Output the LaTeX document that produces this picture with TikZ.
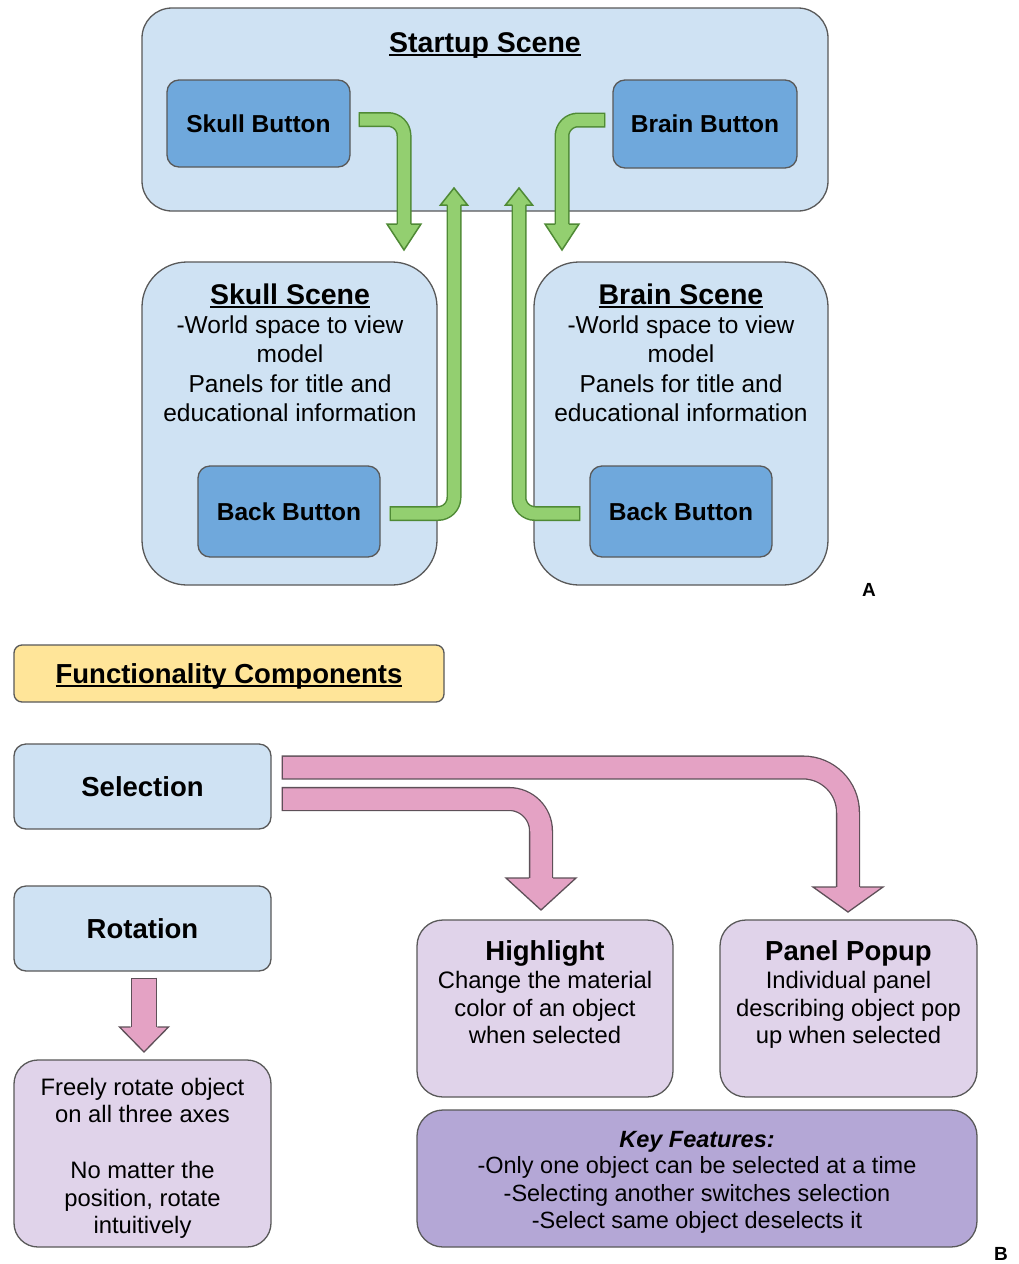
\documentclass[tikz,border=0pt]{standalone}
\usepackage{fontspec}
\setmainfont{Liberation Sans}
\usetikzlibrary{calc}
\definecolor{lblue}{HTML}{CFE2F3}
\definecolor{mblue}{HTML}{6FA8DC}
\definecolor{edgec}{HTML}{595959}
\definecolor{gfill}{HTML}{93CF70}
\definecolor{gedge}{HTML}{4F8A35}
\definecolor{pfill}{HTML}{E4A2C4}
\definecolor{pedge}{HTML}{5E5058}
\definecolor{lav}{HTML}{E0D3EA}
\definecolor{kfill}{HTML}{B4A7D6}
\definecolor{yfill}{HTML}{FFE599}
\newcommand\fsz[2]{\fontsize{#1}{#2}\selectfont}
\newcommand\ulin[1]{\setbox0\hbox{#1}\leavevmode\rlap{\rule[-0.13em]{\wd0}{0.075em}}\box0}
\tikzset{
  box/.style={draw=edgec, line width=1.3pt, inner sep=0pt},
  titlef/.style={font=\fsz{28.5}{34}\bfseries},
  btnf/.style={font=\fsz{24.5}{29}\bfseries},
  bodyf/.style={font=\fsz{24.5}{29}},
  btitle/.style={font=\fsz{27.5}{33}\bfseries},
  bbody/.style={font=\fsz{23.8}{28}},
  txt/.style={anchor=base, inner sep=0pt},
  gshaft/.style={draw=gedge, double=gfill, double distance=12pt, line width=1.5pt, rounded corners=16pt},
  ghead/.style={fill=gfill, draw=gedge, line width=1.5pt, line join=miter},
  gcap/.style={draw=gedge, line width=1.5pt},
  pshaft/.style={draw=pedge, double=pfill, double distance=21.5pt, line width=1.3pt},
  phead/.style={fill=pfill, draw=pedge, line width=1.3pt, line join=miter},
  pcap/.style={draw=pedge, line width=1.3pt},
}
\begin{document}
\begin{tikzpicture}[x=1pt, y=-1pt]
\useasboundingbox (0,0) rectangle (1019,1264);
\fill[white] (0,0) rectangle (1019,1264);

% ---------- Part A ----------
\node[box, fill=lblue, rounded corners=30pt, minimum width=686pt, minimum height=203pt] (startup) at (485,109.5) {};
\node[txt, titlef] (startupt) at (485,52) {\ulin{Startup Scene}};
\node[box, fill=mblue, rounded corners=12pt, minimum width=183pt, minimum height=87pt, btnf] (skullbtn) at (258.5,123.5) {Skull Button};
\node[box, fill=mblue, rounded corners=12pt, minimum width=184pt, minimum height=88pt, btnf] (brainbtn) at (705,124) {Brain Button};

\node[box, fill=lblue, rounded corners=45pt, minimum width=295pt, minimum height=323pt] (skullsc) at (289.5,423.5) {};
\node[box, fill=lblue, rounded corners=45pt, minimum width=294pt, minimum height=323pt] (brainsc) at (681,423.5) {};

\node[txt, titlef] (skt) at (290,304) {\ulin{Skull Scene}};
\node[txt, bodyf] (sk1) at (290,333) {-World space to view};
\node[txt, bodyf] (sk2) at (290,362) {model};
\node[txt, bodyf] (sk3) at (290,392) {Panels for title and};
\node[txt, bodyf] (sk4) at (290,421) {educational information};

\node[txt, titlef] (brt) at (681,304) {\ulin{Brain Scene}};
\node[txt, bodyf] (br1) at (681,333) {-World space to view};
\node[txt, bodyf] (br2) at (681,362) {model};
\node[txt, bodyf] (br3) at (681,392) {Panels for title and};
\node[txt, bodyf] (br4) at (681,421) {educational information};

\node[box, fill=mblue, rounded corners=12pt, minimum width=182pt, minimum height=91pt, btnf] (backl) at (289,511.5) {Back Button};
\node[box, fill=mblue, rounded corners=12pt, minimum width=182pt, minimum height=91pt, btnf] (backr) at (681,511.5) {Back Button};

\node[txt, font=\fsz{19}{22}\bfseries] (labA) at (869,596) {A};

% green connectors
\coordinate (g1tip) at (404,250);
\coordinate (g2tip) at (454,188);
\coordinate (g3tip) at (519,188);
\coordinate (g4tip) at (562,250);
\coordinate (g1s) at ([xshift=8pt,yshift=4pt]skullbtn.east);
\coordinate (g4s) at ([xshift=-7pt,yshift=4pt]brainbtn.west);
\coordinate (g2s) at ([xshift=9pt,yshift=-2pt]backl.east);
\coordinate (g3s) at ([xshift=-9pt,yshift=-2pt]backr.west);

\draw[gshaft] (g1s) -| ($(g1tip)+(0,-26)$);
\draw[gcap] ($(g1s)+(0.75,-6.75)$) -- ($(g1s)+(0.75,6.75)$);
\filldraw[ghead] ($(g1tip)+(-6.75,-26)$) -- ($(g1tip)+(-17,-26)$) -- (g1tip) -- ($(g1tip)+(17,-26)$) -- ($(g1tip)+(6.75,-26)$);

\draw[gshaft] (g4s) -| ($(g4tip)+(0,-26)$);
\draw[gcap] ($(g4s)+(-0.75,-6.75)$) -- ($(g4s)+(-0.75,6.75)$);
\filldraw[ghead] ($(g4tip)+(-6.75,-26)$) -- ($(g4tip)+(-17,-26)$) -- (g4tip) -- ($(g4tip)+(17,-26)$) -- ($(g4tip)+(6.75,-26)$);

\draw[gshaft] (g2s) -| ($(g2tip)+(0,17)$);
\draw[gcap] ($(g2s)+(0.75,-6.75)$) -- ($(g2s)+(0.75,6.75)$);
\filldraw[ghead] ($(g2tip)+(-6.75,17)$) -- ($(g2tip)+(-13.5,17)$) -- (g2tip) -- ($(g2tip)+(13.5,17)$) -- ($(g2tip)+(6.75,17)$);

\draw[gshaft] (g3s) -| ($(g3tip)+(0,17)$);
\draw[gcap] ($(g3s)+(-0.75,-6.75)$) -- ($(g3s)+(-0.75,6.75)$);
\filldraw[ghead] ($(g3tip)+(-6.75,17)$) -- ($(g3tip)+(-13.5,17)$) -- (g3tip) -- ($(g3tip)+(13.5,17)$) -- ($(g3tip)+(6.75,17)$);

% ---------- Part B ----------
\node[box, fill=yfill, rounded corners=8pt, minimum width=430pt, minimum height=57pt] (func) at (229,673.5) {};
\node[txt, btitle] (funct) at (229,683) {\ulin{Functionality Components}};

\node[box, fill=lblue, rounded corners=12pt, minimum width=257pt, minimum height=85pt, btitle] (sel) at (142.5,786.5) {Selection};
\node[box, fill=lblue, rounded corners=12pt, minimum width=257pt, minimum height=85pt, btitle] (rot) at (142.5,928.5) {Rotation};

\node[box, fill=lav, rounded corners=24pt, minimum width=257pt, minimum height=187pt] (freely) at (142.5,1153.5) {};
\node[txt, bbody] (fr1) at (142.5,1095) {Freely rotate object};
\node[txt, bbody] (fr2) at (142.5,1122) {on all three axes};
\node[txt, bbody] (fr3) at (142.5,1178) {No matter the};
\node[txt, bbody] (fr4) at (142.5,1206) {position, rotate};
\node[txt, bbody] (fr5) at (142.5,1233) {intuitively};

\node[box, fill=lav, rounded corners=26pt, minimum width=256pt, minimum height=177pt] (high) at (545,1008.5) {};
\node[txt, btitle] (hit) at (545,960) {Highlight};
\node[txt, bbody] (hi1) at (545,988) {Change the material};
\node[txt, bbody] (hi2) at (545,1016) {color of an object};
\node[txt, bbody] (hi3) at (545,1043) {when selected};

\node[box, fill=lav, rounded corners=26pt, minimum width=257pt, minimum height=177pt] (popup) at (848.5,1008.5) {};
\node[txt, btitle] (pot) at (848.5,960) {Panel Popup};
\node[txt, bbody] (po1) at (848.5,988) {Individual panel};
\node[txt, bbody] (po2) at (848.5,1016) {describing object pop};
\node[txt, bbody] (po3) at (848.5,1043) {up when selected};

\node[box, fill=kfill, rounded corners=26pt, minimum width=560pt, minimum height=137pt] (key) at (697,1178.5) {};
\node[txt, font=\fsz{23.5}{28}\bfseries\itshape] (kt) at (697,1147) {Key Features:};
\node[txt, font=\fsz{23.5}{28}] (k1) at (697,1173) {-Only one object can be selected at a time};
\node[txt, font=\fsz{23.5}{28}] (k2) at (697,1201) {-Selecting another switches selection};
\node[txt, font=\fsz{23.5}{28}] (k3) at (697,1228) {-Select same object deselects it};

\node[txt, font=\fsz{19}{22}\bfseries] (labB) at (1001,1260) {B};

% pink connectors
\coordinate (p1tip) at (848,912);
\coordinate (p2tip) at (541,910);
\coordinate (p3tip) at (144,1052);
\coordinate (p1s) at ([xshift=10pt,yshift=19pt]sel.east);
\coordinate (p2s) at ([xshift=10pt,yshift=-12.5pt]sel.east);
\coordinate (p3s) at ([yshift=-6pt]rot.south -| p3tip);

\draw[pshaft, rounded corners=45pt] (p1s) -| ($(p1tip)+(0,-25)$);
\draw[pcap] ($(p1s)+(0.65,-11.4)$) -- ($(p1s)+(0.65,11.4)$);
\filldraw[phead] ($(p1tip)+(-12,-25)$) -- ($(p1tip)+(-35,-25)$) -- (p1tip) -- ($(p1tip)+(35,-25)$) -- ($(p1tip)+(12,-25)$);

\draw[pshaft, rounded corners=32pt] (p2s) -| ($(p2tip)+(0,-32)$);
\draw[pcap] ($(p2s)+(0.65,-11.4)$) -- ($(p2s)+(0.65,11.4)$);
\filldraw[phead] ($(p2tip)+(-12,-32)$) -- ($(p2tip)+(-35,-32)$) -- (p2tip) -- ($(p2tip)+(35,-32)$) -- ($(p2tip)+(12,-32)$);

\draw[pshaft, double distance=24pt] (p3s) -- ($(p3tip)+(0,-25)$);
\draw[pcap] ($(p3s)+(-12.65,0.65)$) -- ($(p3s)+(12.65,0.65)$);
\filldraw[phead] ($(p3tip)+(-13.3,-25)$) -- ($(p3tip)+(-24.5,-25)$) -- (p3tip) -- ($(p3tip)+(24.5,-25)$) -- ($(p3tip)+(13.3,-25)$);

\end{tikzpicture}
\end{document}
